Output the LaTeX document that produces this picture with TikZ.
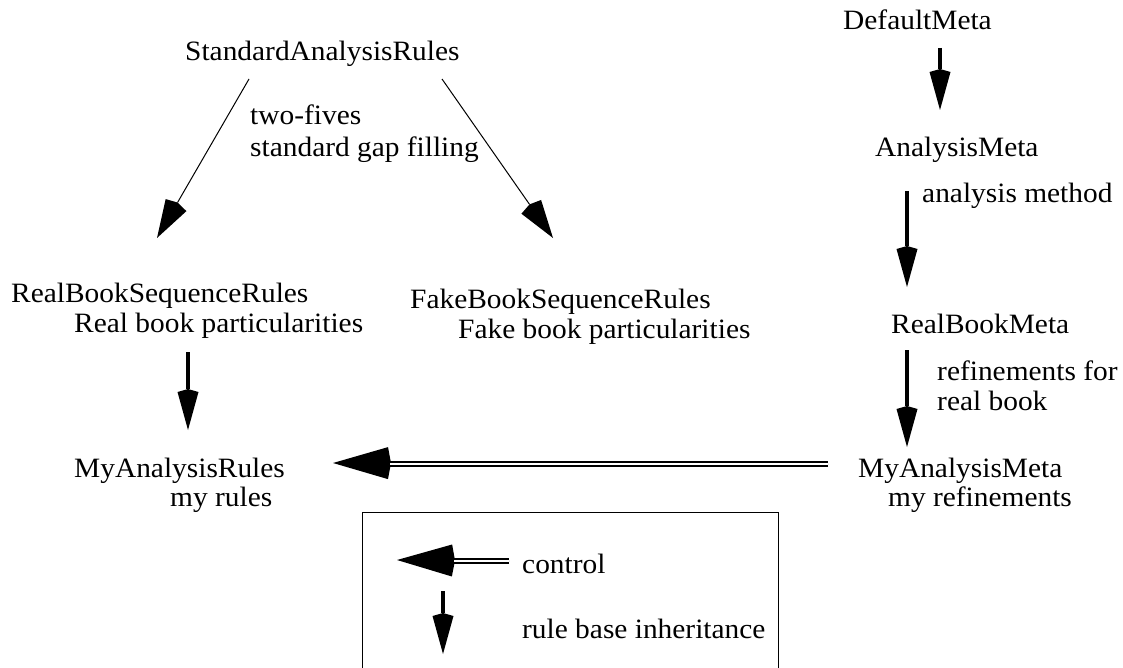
\documentclass[tikz,border=0pt]{standalone}
\usepackage{fontspec}
\setmainfont{Liberation Serif}[FakeStretch=1.05]
\usetikzlibrary{arrows.meta,calc}
\tikzset{
  lbl/.style={anchor=base west, inner sep=0pt, font=\fontsize{28}{33}\selectfont},
  inh/.style={line width=3.5pt, -{Stealth[length=38pt,width=21pt,inset=-3pt,line width=0pt]}},
  thinarrow/.style={line width=1pt, -{Stealth[length=38pt,width=24pt,inset=-3pt,line width=0pt]}},
  ctrltip/.style={line width=1pt, -{Stealth[length=55pt,width=32pt,inset=-3pt,line width=0pt]}},
  ctrlline/.style={double, line width=2.5pt, double distance=1.5pt},
  boxline/.style={line width=1pt}
}
\begin{document}
\begin{tikzpicture}[x=1pt,y=-1pt]
\useasboundingbox (0,0) rectangle (1123,668);
% left column
\node[lbl] (sar) at (185,61) {StandardAnalysisRules};
\node[lbl] (tf1) at (250,125) {two-fives};
\node[lbl] (tf2) at (250,157) {standard gap filling};
\node[lbl] (rbs) at (11,302) {RealBookSequenceRules};
\node[lbl] (rbs2) at (74,332) {Real book particularities};
\node[lbl] (fbs) at (410,308) {FakeBookSequenceRules};
\node[lbl] (fbs2) at (458,338) {Fake book particularities};
\node[lbl] (mar) at (74,477) {MyAnalysisRules};
\node[lbl] (mar2) at (170,506) {my rules};
% right column
\node[lbl] (dm) at (843,30) {DefaultMeta};
\node[lbl] (am) at (875,157) {AnalysisMeta};
\node[lbl] (aml) at (922,203) {analysis method};
\node[lbl] (rbm) at (891,333) {RealBookMeta};
\node[lbl] (rf1) at (937,380) {refinements for};
\node[lbl] (rf2) at (937,410) {real book};
\node[lbl] (mam) at (858,477) {MyAnalysisMeta};
\node[lbl] (mam2) at (888,506) {my refinements};
% legend
\node[lbl] (ctl) at (522,573) {control};
\node[lbl] (rbi) at (522,638) {rule base inheritance};
\draw[boxline] (362,680) |- (778,512) -- (778,680);

% connectors
\draw[thinarrow] ($(sar.base west)+(64,18)$) -- ($(rbs.base west)+(146,-64)$);
\draw[thinarrow] ($(sar.base west)+(257,18)$) -- ($(fbs.base west)+(143,-70)$);
\draw[inh] ($(rbs.base west)+(177,50)$) -- ($(mar.base west)+(114,-47)$);
\draw[inh] ($(dm.base west)+(97,18)$) -- ($(am.base west)+(65,-47)$);
\draw[inh] ($(am.base west)+(32,34)$) -- ($(rbm.base west)+(16,-46)$);
\draw[inh] ($(rbm.base west)+(16,17)$) -- ($(mam.base west)+(49,-30)$);
% control arrow
\draw[ctrltip] ($(mam.base west)+(-30,-13)$) -- ($(mar.base west)+(259,-14)$);
\draw[ctrlline] ($(mam.base west)+(-30,-13)$) -- ($(mar.base west)+(316,-13)$);
% legend arrows
\draw[ctrltip] ($(ctl.base west)+(-13,-12)$) -- ($(ctl.base west)+(-125,-13)$);
\draw[ctrlline] ($(ctl.base west)+(-13,-12)$) -- ($(ctl.base west)+(-68,-12)$);
\draw[inh] ($(rbi.base west)+(-79,-47)$) -- ($(rbi.base west)+(-79,16)$);
\end{tikzpicture}
\end{document}
